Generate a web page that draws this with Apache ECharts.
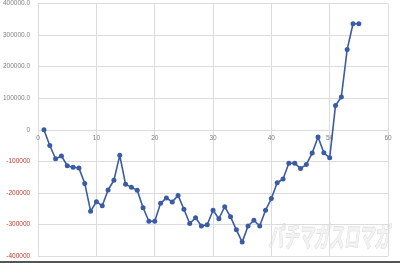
<!DOCTYPE html>
<html>
<head>
<meta charset="utf-8">
<script src="https://cdn.jsdelivr.net/npm/echarts@6/dist/echarts.min.js"></script>
<style>
html,body{margin:0;padding:0;background:#fff;}
#c{width:400px;height:263px;}
</style>
</head>
<body>
<div id="c"></div>
<script>
var xValues = [1,2,3,4,5,6,7,8,9,10,11,12,13,14,15,16,17,18,19,20,21,22,23,24,25,26,27,28,29,30,31,32,33,34,35,36,37,38,39,40,41,42,43,44,45,46,47,48,49,50,51,52,53,54,55];
var yValues = [0,-50000,-92000,-83000,-114000,-119000,-121000,-170000,-258000,-228000,-241000,-191000,-160000,-81000,-173000,-182000,-192000,-247000,-290000,-290000,-233000,-216000,-229000,-208000,-252000,-297000,-279000,-305000,-301000,-255000,-282000,-244000,-276000,-317000,-356000,-305000,-287000,-305000,-255000,-218000,-168000,-156000,-106000,-106000,-123000,-110000,-74000,-23000,-73000,-89000,77000,104000,254000,336000,336000];
var xTicks = [0,10,20,30,40,50,60];
var yTicks = [-400000,-300000,-200000,-100000,0,100000,200000,300000,400000];
var watermark = 'パチマガスロマガ';

var data = xValues.map(function(x,i){return [x,yValues[i]];});
var chart = echarts.init(document.getElementById('c'), null, {renderer:'canvas'});
var font = '"Liberation Sans", Arial, sans-serif';
var gridTop = 3, gridBottom = 7, H = 263;
var plotH = H - gridTop - gridBottom;
var zeroOffset = -plotH * (0 - yTicks[0]) / (yTicks[yTicks.length-1] - yTicks[0]);
chart.setOption({
  animation:false,
  backgroundColor:'#ffffff',
  grid:{left:35,right:12,top:gridTop,bottom:gridBottom,containLabel:false},
  xAxis:[{
    type:'value',
    min:xTicks[0], max:xTicks[xTicks.length-1], interval:10,
    axisLine:{show:false,onZero:false},
    axisTick:{show:false},
    axisLabel:{show:false},
    splitLine:{show:true,lineStyle:{color:'#dcdcdc',width:1}}
  },{
    type:'value',
    min:xTicks[0], max:xTicks[xTicks.length-1], interval:10,
    position:'bottom',
    offset:zeroOffset,
    axisLine:{show:false,onZero:false},
    axisTick:{show:false},
    axisLabel:{color:'#808080',fontSize:6.5,fontFamily:font,margin:5},
    splitLine:{show:false}
  }],
  yAxis:{
    type:'value',
    min:yTicks[0], max:yTicks[yTicks.length-1], interval:100000,
    axisLine:{show:false},
    axisTick:{show:false},
    axisLabel:{
      fontSize:6.5,fontFamily:font,margin:8,
      formatter:function(v){
        if(v>0) return '{p|'+v.toFixed(1)+'}';
        if(v===0) return '{p|0}';
        return '{n|'+v+'}';
      },
      rich:{
        p:{color:'#808080',fontSize:6.5,fontFamily:font},
        n:{color:'#c0392b',fontSize:6.5,fontFamily:font}
      }
    },
    splitLine:{show:true,lineStyle:{color:'#dcdcdc',width:1}}
  },
  graphic:[
    {type:'text',left:268,top:222,z:0,scaleX:0.54,
     style:{text:watermark,font:'bold italic 28px "Noto Sans CJK JP"',fill:'#f2f2f2',stroke:'#d9d9d9',lineWidth:1.2}},
    {type:'rect',left:0,top:261,shape:{width:400,height:2},style:{fill:'#555555'}}
  ],
  series:[{
    type:'line',
    xAxisIndex:0,
    data:data,
    z:5,
    symbol:'circle',
    symbolSize:5,
    lineStyle:{color:'#3a5ca6',width:1.6},
    itemStyle:{color:'#3a5ca6'}
  }]
});
</script>
</body>
</html>
